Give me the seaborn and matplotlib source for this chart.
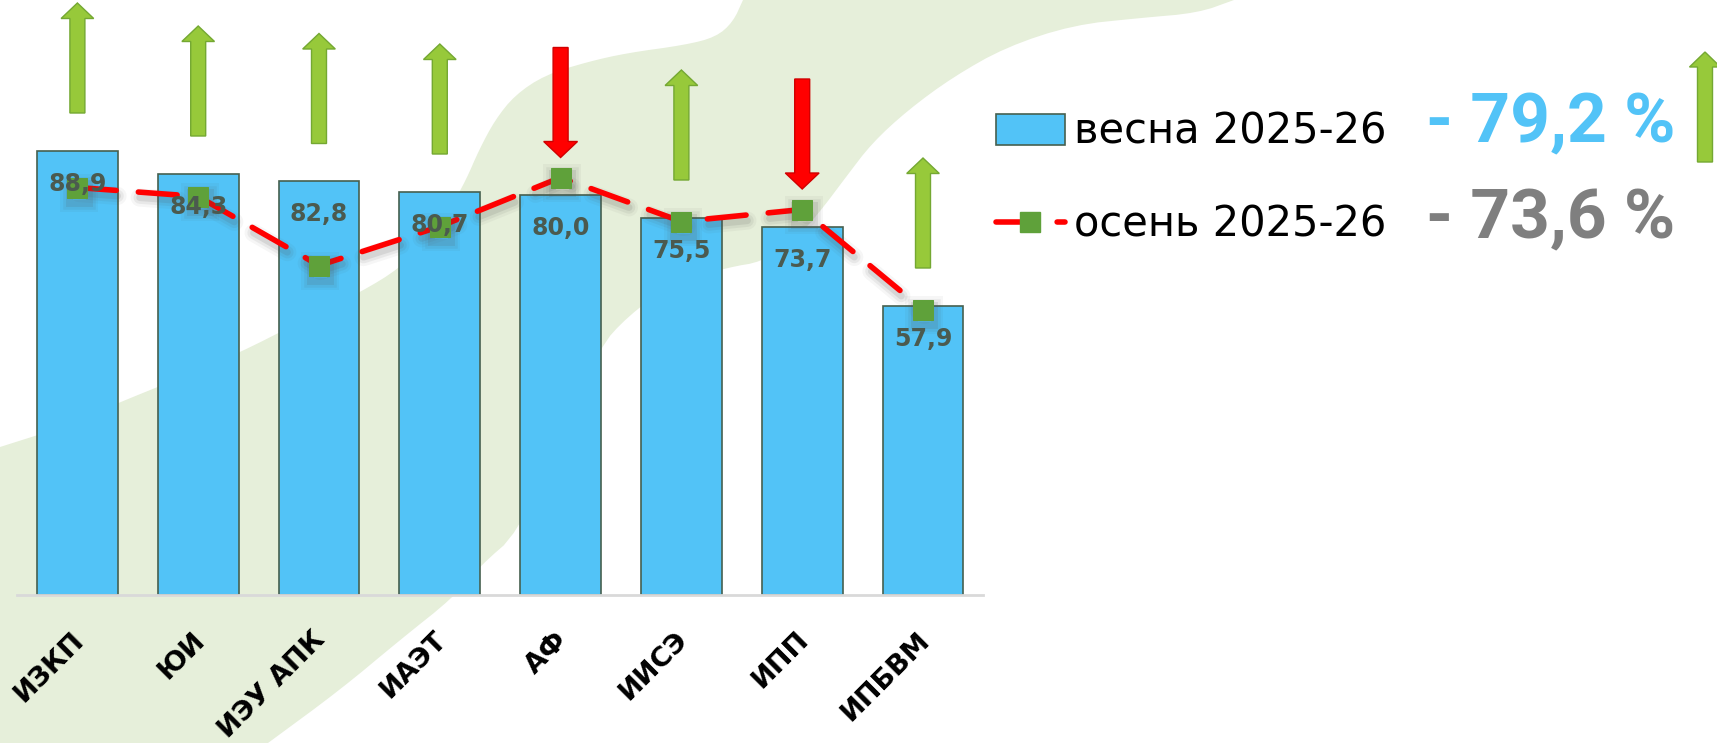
import numpy as np
import pandas as pd
import seaborn as sns
import matplotlib.pyplot as plt
import matplotlib.transforms as mtransforms
from matplotlib.patches import Patch, Polygon, FancyArrow
from matplotlib.lines import Line2D
import matplotlib.patheffects as pe

# data
institutes = ["ИЗКП", "ЮИ", "ИЭУ АПК", "ИАЭТ", "АФ", "ИИСЭ", "ИПП", "ИПБВМ"]
spring = [88.9, 84.3, 82.8, 80.7, 80.0, 75.5, 73.7, 57.9]
autumn = [81.5, 79.7, 65.9, 73.7, 83.5, 74.7, 77.1, 57.1]
spring_label = "весна 2025-26"
autumn_label = "осень 2025-26"
spring_total = 79.2
autumn_total = 73.6

df = pd.DataFrame({"institute": institutes, "spring": spring, "autumn": autumn})

# colours
BLUE = "#52C3F7"
BAR_EDGE = "#46604F"
MARK_GREEN = "#5FA13A"
ARROW_GREEN = "#97C93A"
ARROW_GREEN_EDGE = "#74A832"
RED = "#FF0000"
RED_EDGE = "#D00000"
LABEL = "#4B5A4F"
BG = "#E6EFDA"

sns.set_theme(style="white")
plt.rcParams['font.family'] = ['DejaVu Sans']

W, H = 1717, 743
fig = plt.figure(figsize=(W / 100, H / 100), dpi=100)
fig.patch.set_facecolor("white")

# pale green background band (pixels from top-left)
left_edge = [(0, 447), (60, 428), (118, 403), (180, 378), (239, 353), (300, 322),
             (361, 292), (400, 268), (430, 238), (452, 205), (466, 180), (479, 150), (495, 120),
             (515, 95), (545, 75), (587, 62), (627, 53), (685, 45), (716, 37), (733, 22), (743, 0)]
right_edge = [(1234, 0), (1198, 13), (1140, 18), (1073, 25), (1006, 47), (953, 77), (908, 110),
              (872, 143), (846, 177), (819, 213), (792, 243), (761, 262), (730, 267), (672, 283),
              (627, 317), (600, 347), (562, 435), (518, 533), (480, 566), (454, 597), (400, 640),
              (340, 690), (268, 743)]


def chaikin_open(pts, n=2):
    pts = np.array(pts, dtype=float)
    for _ in range(n):
        q = 0.75 * pts[:-1] + 0.25 * pts[1:]
        r = 0.25 * pts[:-1] + 0.75 * pts[1:]
        mid = np.empty((len(q) * 2, 2))
        mid[0::2] = q
        mid[1::2] = r
        pts = np.vstack([pts[:1], mid, pts[-1:]])
    return pts


bp = np.vstack([[(0, 743)], chaikin_open(left_edge), chaikin_open(right_edge)])
bp[:, 0] = bp[:, 0] / W
bp[:, 1] = 1 - bp[:, 1] / H
fig.patches.append(Polygon(bp, closed=True, transform=fig.transFigure, facecolor=BG,
                           edgecolor="none", zorder=-1, figure=fig))

# main axes
ax = fig.add_axes([17 / W, 148 / H, 966.4 / W, 595 / H])
ax.set_facecolor("none")

sns.barplot(data=df, x="institute", y="spring", color=BLUE, saturation=1, width=0.67,
            edgecolor=BAR_EDGE, linewidth=1.2, ax=ax, zorder=2)

shadow = [pe.SimpleLineShadow(offset=(1, -4), shadow_color="#505050", alpha=0.05, linewidth=13),
          pe.SimpleLineShadow(offset=(1, -4), shadow_color="#505050", alpha=0.08, linewidth=9),
          pe.SimpleLineShadow(offset=(1, -4), shadow_color="#505050", alpha=0.12, linewidth=5),
          pe.Normal()]
sns.lineplot(data=df, x="institute", y="autumn", sort=False, color=RED, linewidth=4,
             linestyle=(0, (7, 4)), dash_capstyle="round", marker="s", markersize=14.4,
             markerfacecolor=MARK_GREEN, markeredgecolor=MARK_GREEN, ax=ax, zorder=4,
             path_effects=shadow)

# value labels inside bars
for i, v in enumerate(spring):
    ax.annotate(f"{v:.1f}".replace(".", ","), (i, v), xytext=(0, -24), textcoords="offset points",
                ha="center", va="center", fontsize=17, fontweight="bold", color=LABEL, zorder=5)

# change arrows: up if spring is higher than autumn
for i, (s, a) in enumerate(zip(spring, autumn)):
    base = s + 7.5
    if s >= a:
        ax.arrow(i, base, 0, 22, width=0.124, head_width=0.27, head_length=3.1,
                 length_includes_head=True, fc=ARROW_GREEN, ec=ARROW_GREEN_EDGE, lw=1,
                 clip_on=False, zorder=3)
    else:
        ax.arrow(i, base + 22, 0, -22, width=0.124, head_width=0.28, head_length=3.2,
                 length_includes_head=True, fc=RED, ec=RED_EDGE, lw=1,
                 clip_on=False, zorder=3)

ax.set_xlim(-0.5, 7.5)
ax.set_ylim(0, 119)
ax.set_xlabel("")
ax.set_ylabel("")
ax.set_yticks([])
ax.tick_params(axis="x", length=0, pad=23)
shift = mtransforms.ScaledTranslation(0.12, 0, fig.dpi_scale_trans)
for lab in ax.get_xticklabels():
    lab.set_rotation(45)
    lab.set_ha("right")
    lab.set_fontsize(19.5)
    lab.set_fontweight("bold")
    lab.set_color("black")
    lab.set_transform(lab.get_transform() + shift)
for s in ["top", "right", "left"]:
    ax.spines[s].set_visible(False)
ax.spines["bottom"].set_color("#D9D9D9")
ax.spines["bottom"].set_linewidth(2)

# legend
handles = [Patch(facecolor=BLUE, edgecolor=BAR_EDGE, linewidth=1.2),
           Line2D([], [], color=RED, lw=4, linestyle=(0, (7, 4)), dash_capstyle="round",
                  marker="s", markersize=14.4, markerfacecolor=MARK_GREEN, markeredgecolor=MARK_GREEN)]
fig.legend(handles, [spring_label, autumn_label], loc="upper left",
           bbox_to_anchor=(996 / W, 1 - 111 / H), frameon=False, fontsize=30, borderpad=0,
           borderaxespad=0, handlelength=1.65, handletextpad=0.22, labelspacing=1.22,
           handleheight=0.75, labelcolor="black")

# totals
fig.text(1426 / W, 1 - 142 / H, f"- {spring_total:.1f} %".replace(".", ","), fontsize=50,
         fontweight="bold", color=BLUE, family=["Roboto", "DejaVu Sans"], va="baseline")
fig.text(1426 / W, 1 - 238 / H, f"- {autumn_total:.1f} %".replace(".", ","), fontsize=50,
         fontweight="bold", color="#7F7F7F", family=["Roboto", "DejaVu Sans"], va="baseline")

# overall change arrow
if spring_total >= autumn_total:
    fig.patches.append(FancyArrow(1705 / W, 1 - 162 / H, 0, 110 / H, width=15 / W, head_width=31 / W,
                                  head_length=15 / H, length_includes_head=True,
                                  transform=fig.transFigure, fc=ARROW_GREEN, ec=ARROW_GREEN_EDGE,
                                  lw=1, figure=fig))

fig.savefig("out.png", dpi=100)
